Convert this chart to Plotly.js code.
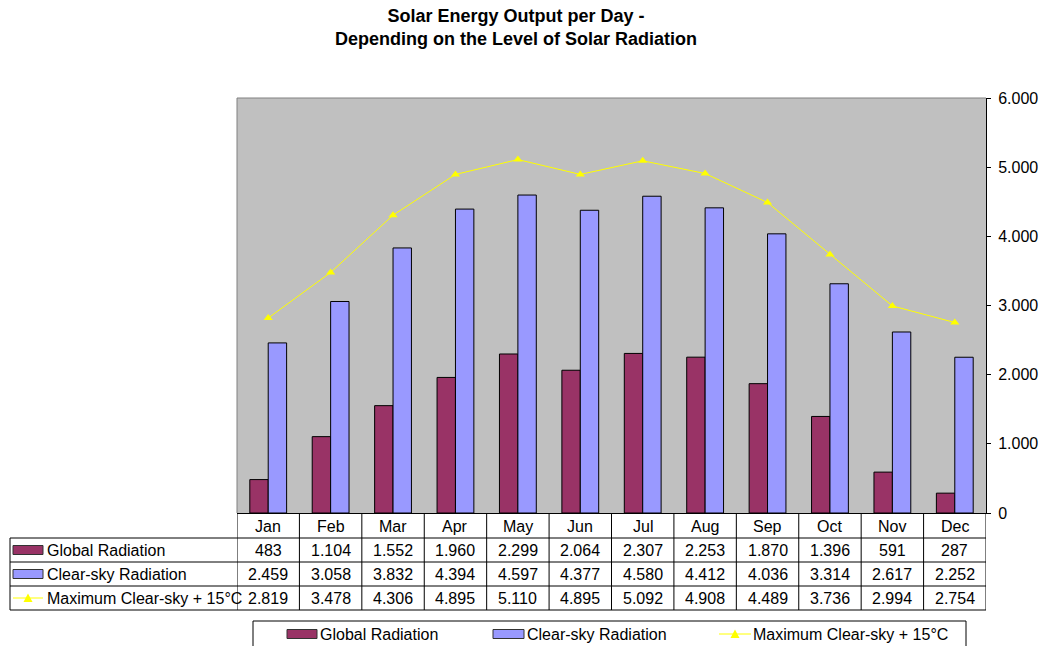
<!DOCTYPE html>
<html>
<head>
<meta charset="utf-8">
<script src="https://cdn.plot.ly/plotly-3.0.1.min.js"></script>
<style>
  html, body { margin: 0; padding: 0; background: #ffffff; }
  #chart { width: 1046px; height: 646px; }
</style>
</head>
<body>
<div id="chart"></div>
<script>
// Daily solar energy output per month (Wh)
const months = ['Jan', 'Feb', 'Mar', 'Apr', 'May', 'Jun', 'Jul', 'Aug', 'Sep', 'Oct', 'Nov', 'Dec'];
const globalRadiation = [483, 1104, 1552, 1960, 2299, 2064, 2307, 2253, 1870, 1396, 591, 287];
const clearSkyRadiation = [2459, 3058, 3832, 4394, 4597, 4377, 4580, 4412, 4036, 3314, 2617, 2252];
const maxClearSky15 = [2819, 3478, 4306, 4895, 5110, 4895, 5092, 4908, 4489, 3736, 2994, 2754];
const seriesNames = ['Global Radiation', 'Clear-sky Radiation', 'Maximum Clear-sky + 15°C'];

const COL_GLOBAL = '#993366';
const COL_CLEAR = '#9999FF';
const COL_MAX = '#FFFF00';
const FONT = 'Liberation Sans, Arial, sans-serif';

// plot area in pixels
const PL = 237, PR = 986, PT = 98, PB = 513;
const W = 1046, H = 646;
const px = x => (x - PL) / (PR - PL);
const py = y => (PB - y) / (PB - PT);

// thousands separator "."
function fmt(v) {
  return String(Math.round(v)).replace(/\B(?=(\d{3})+(?!\d))/g, '.');
}

const traces = [
  {
    type: 'bar', name: seriesNames[0], x: months, y: globalRadiation,
    marker: { color: COL_GLOBAL, line: { color: '#000000', width: 1 } },
    hoverinfo: 'skip'
  },
  {
    type: 'bar', name: seriesNames[1], x: months, y: clearSkyRadiation,
    marker: { color: COL_CLEAR, line: { color: '#000000', width: 1 } },
    hoverinfo: 'skip'
  },
  {
    type: 'scatter', mode: 'lines+markers', name: seriesNames[2], x: months, y: maxClearSky15,
    line: { color: COL_MAX, width: 1 },
    marker: { symbol: 'triangle-up', size: 8, color: COL_MAX },
    hoverinfo: 'skip'
  }
];

const shapes = [];
const annotations = [];
const lineStyle = { color: '#000000', width: 1 };

// plot-area frame (top and left)
shapes.push({ type: 'line', xref: 'paper', yref: 'paper', x0: 0, x1: 1, y0: 1, y1: 1, line: { color: '#808080', width: 1 } });
shapes.push({ type: 'line', xref: 'paper', yref: 'paper', x0: 0, x1: 0, y0: 0, y1: 1, line: { color: '#808080', width: 1 } });

// data table below the axis
const rowY = [513, 538, 562, 586, 610];
for (let r = 1; r < rowY.length; r++) {
  shapes.push({ type: 'line', xref: 'paper', yref: 'paper', x0: px(10), x1: px(PR), y0: py(rowY[r]), y1: py(rowY[r]), line: lineStyle });
}
shapes.push({ type: 'line', xref: 'paper', yref: 'paper', x0: px(10), x1: px(10), y0: py(538), y1: py(610), line: lineStyle });
for (let i = 0; i <= months.length; i++) {
  shapes.push({ type: 'line', xref: 'x', yref: 'paper', x0: i - 0.5, x1: i - 0.5, y0: py(513), y1: py(610), line: lineStyle });
}

const cellFont = { family: FONT, size: 16, color: '#000000' };
const rowCenters = [526, 550, 574, 598];
const rowsData = [globalRadiation, clearSkyRadiation, maxClearSky15];
months.forEach((m, i) => {
  annotations.push({ xref: 'x', yref: 'paper', x: i, y: py(rowCenters[0]), text: m, showarrow: false, xanchor: 'center', yanchor: 'middle', font: cellFont });
  rowsData.forEach((arr, r) => {
    annotations.push({ xref: 'x', yref: 'paper', x: i, y: py(rowCenters[r + 1]), text: fmt(arr[i]), showarrow: false, xanchor: 'center', yanchor: 'middle', font: cellFont });
  });
});

// series keys in the table's first column
function barKey(x0, x1, yc, color) {
  shapes.push({ type: 'rect', xref: 'paper', yref: 'paper', x0: px(x0), x1: px(x1), y0: py(yc - 4.5), y1: py(yc + 4.5), fillcolor: color, line: { color: '#333333', width: 1 } });
}
function lineKey(x0, x1, yc) {
  shapes.push({ type: 'line', xref: 'paper', yref: 'paper', x0: px(x0), x1: px(x1), y0: py(yc), y1: py(yc), line: { color: COL_MAX, width: 1 } });
  const cx = (x0 + x1) / 2;
  shapes.push({
    type: 'path', xref: 'paper', yref: 'paper',
    path: `M ${px(cx - 4.5)} ${py(yc + 4)} L ${px(cx + 4.5)} ${py(yc + 4)} L ${px(cx)} ${py(yc - 4.5)} Z`,
    fillcolor: COL_MAX, line: { color: COL_MAX, width: 0 }
  });
}
barKey(13, 43, rowCenters[1], COL_GLOBAL);
barKey(13, 43, rowCenters[2], COL_CLEAR);
lineKey(13, 43, rowCenters[3]);
seriesNames.forEach((n, r) => {
  annotations.push({ xref: 'paper', yref: 'paper', x: px(45), y: py(rowCenters[r + 1]), text: n, showarrow: false, xanchor: 'left', yanchor: 'middle', font: cellFont });
});

// legend box at the bottom
shapes.push({ type: 'rect', xref: 'paper', yref: 'paper', x0: px(253), x1: px(966), y0: py(621), y1: py(647), line: lineStyle, fillcolor: 'rgba(0,0,0,0)' });
const legY = 634;
barKey(287, 317, legY, COL_GLOBAL);
barKey(493, 524, legY, COL_CLEAR);
lineKey(719, 751, legY);
[[318, seriesNames[0]], [525, seriesNames[1]], [751, seriesNames[2]]].forEach(([x, t]) => {
  annotations.push({ xref: 'paper', yref: 'paper', x: px(x), y: py(legY), text: t, showarrow: false, xanchor: 'left', yanchor: 'middle', font: cellFont });
});

// title
annotations.push({
  xref: 'paper', yref: 'paper', x: px(516), y: py(27),
  text: '<b>Solar Energy Output per Day -</b><br><b>Depending on the Level of Solar Radiation</b>',
  showarrow: false, xanchor: 'center', yanchor: 'middle',
  font: { family: FONT, size: 18, color: '#000000' }
});

const layout = {
  width: W, height: H,
  margin: { l: PL, r: W - PR, t: PT, b: H - PB, pad: 0 },
  paper_bgcolor: '#ffffff',
  plot_bgcolor: '#C0C0C0',
  separators: ',.',
  showlegend: false,
  barmode: 'group',
  bargap: 0.41,
  bargroupgap: 0,
  font: { family: FONT, size: 16, color: '#000000' },
  xaxis: {
    type: 'category', range: [-0.5, 11.5],
    showticklabels: false, ticks: '', showgrid: false, zeroline: false,
    showline: true, linecolor: '#000000', linewidth: 1, fixedrange: true
  },
  yaxis: {
    side: 'right', range: [0, 6000], dtick: 1000, tickformat: ',',
    ticks: 'outside', ticklen: 4, tickcolor: '#000000', tickwidth: 1,
    ticklabelstandoff: 4,
    showline: true, linecolor: '#000000', linewidth: 1,
    showgrid: false, zeroline: false,
    tickfont: { family: FONT, size: 16, color: '#000000' }, fixedrange: true
  },
  yaxis2: {
    overlaying: 'y', side: 'right', range: [0, 6000], dtick: 1000,
    ticks: 'inside', ticklen: 4, tickcolor: '#000000', tickwidth: 1,
    showticklabels: false, showline: false, showgrid: false, zeroline: false, fixedrange: true
  },
  shapes: shapes,
  annotations: annotations
};

Plotly.newPlot('chart', traces, layout, { displayModeBar: false, staticPlot: true });
</script>
</body>
</html>
